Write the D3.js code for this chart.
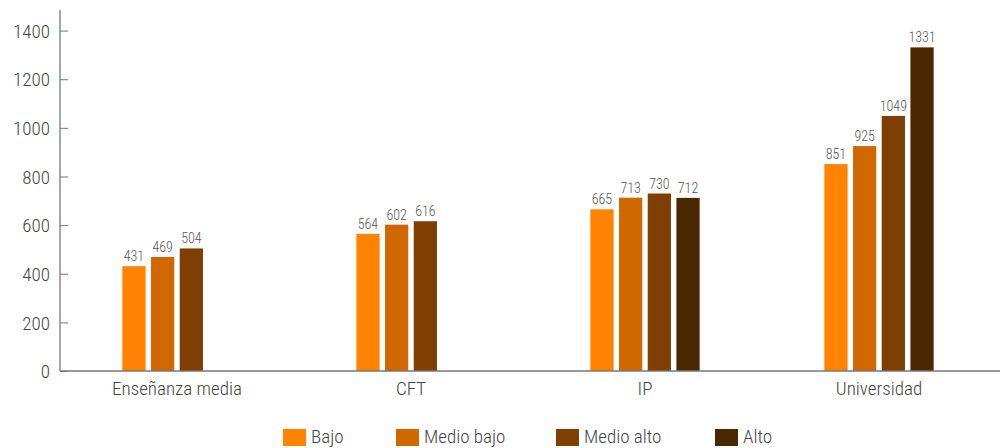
<!DOCTYPE html>
<html><head><meta charset="utf-8">
<script src="https://cdn.jsdelivr.net/npm/d3@7"></script>
<style>
body{margin:0;background:#fff;}
text{font-family:"Roboto Condensed","Liberation Sans Narrow","DejaVu Sans Condensed",Roboto,sans-serif;font-stretch:condensed;font-weight:300;}
</style></head>
<body><svg id="c" width="1000" height="448"></svg>
<script>
const categories = ["Enseñanza media","CFT","IP","Universidad"];
const seriesNames = ["Bajo","Medio bajo","Medio alto","Alto"];
const bajo = [431,564,665,851];
const medioBajo = [469,602,713,925];
const medioAlto = [504,616,730,1049];
const alto = [null,null,712,1331];
const yTicks = [0,200,400,600,800,1000,1200,1400];
const colors = ["#FF8200","#CF6800","#7E3F00","#4B2700"];

const seriesValues = [bajo, medioBajo, medioAlto, alto];
const svg = d3.select("#c");
const y = d3.scaleLinear().domain([0,1400]).range([371,30.6]);
const x0 = d3.scaleBand().domain(categories).range([60,996]).padding(0);
const groupW = 109.3;
const x1 = d3.scaleBand().domain(seriesNames).range([0,groupW]).paddingInner(0.19).paddingOuter(0);

// y axis
const yAxis = svg.append("g").attr("transform","translate(60,0)")
  .call(d3.axisRight(y).tickValues(yTicks).tickSize(8).tickFormat(d3.format("d")));
yAxis.select(".domain").remove();
yAxis.selectAll(".tick line").attr("stroke","#777");
yAxis.selectAll(".tick text").attr("x",-10).attr("text-anchor","end").attr("dy","0.35em")
  .attr("fill","#444").style("font-size","19px");
svg.append("line").attr("x1",60).attr("x2",60).attr("y1",10).attr("y2",371).attr("stroke","#777").attr("stroke-width",1.3);

// bars
categories.forEach((c,ci)=>{
  const gx = x0(c) + x0.bandwidth()/2 - groupW/2;
  seriesNames.forEach((s,si)=>{
    const v = seriesValues[si][ci];
    if(v==null) return;
    svg.append("rect").attr("x",gx+x1(s)).attr("width",x1.bandwidth())
      .attr("y",y(v)).attr("height",y(0)-y(v)).attr("fill",colors[si]);
    svg.append("text").attr("x",gx+x1(s)+x1.bandwidth()/2).attr("y",y(v)-5)
      .attr("text-anchor","middle").attr("fill","#555").style("font-size","14px").text(v);
  });
});

// x axis
const xAxis = svg.append("g").attr("transform","translate(0,371)")
  .call(d3.axisBottom(x0).tickSize(0).tickPadding(11));
xAxis.select(".domain").remove();
xAxis.selectAll(".tick text").attr("fill","#444").style("font-size","19px");
svg.append("line").attr("x1",60).attr("x2",1000).attr("y1",371).attr("y2",371).attr("stroke","#777").attr("stroke-width",1.5);

// legend
const legX = [283,396,556,715];
seriesNames.forEach((s,i)=>{
  svg.append("rect").attr("x",legX[i]).attr("y",429).attr("width",23).attr("height",17).attr("fill",colors[i]);
  svg.append("text").attr("x",legX[i]+28).attr("y",443).attr("fill","#444").style("font-size","19px").text(s);
});
</script></body></html>
